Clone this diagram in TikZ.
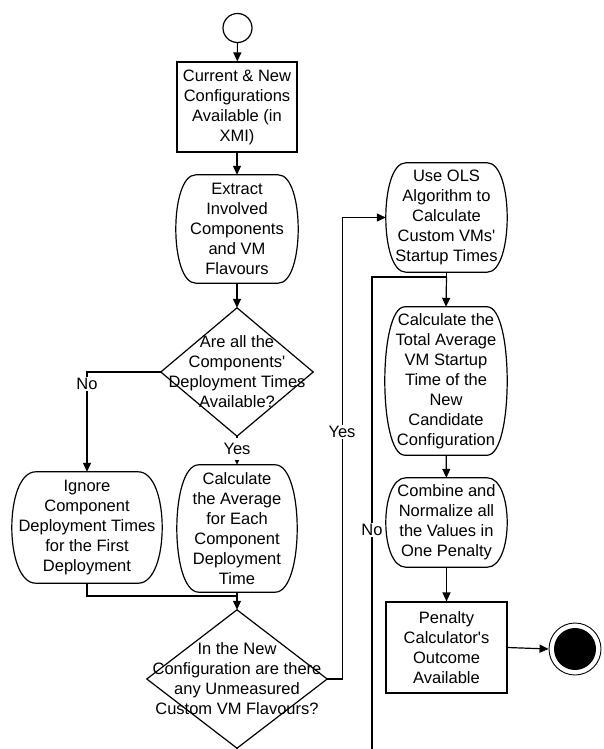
\documentclass[tikz,border=0pt]{standalone}
\usepackage{fontspec}
\setmainfont{Liberation Sans}[Ligatures=TeXOff]
\usetikzlibrary{arrows.meta,calc}

\tikzset{
  every node/.style={font=\fontsize{16.5}{20}\selectfont, align=center, inner sep=0pt},
  line/.style={line width=1.2pt, draw=black},
  flow/.style={line, -{Triangle[length=9pt,width=8pt]}},
  rectbox/.style={rectangle, draw=black, line width=1.2pt},
  lbl/.style={fill=white, inner sep=1.5pt},
}

% action box with bulging sides, drawn round an undrawn node
\newcommand\actionbox[2][20]{%
  \draw[line]
    ($(#2.north west)+(#1,0)$) -- ($(#2.north east)+(-#1,0)$)
    .. controls ($(#2.north east)+(#1/3,0)$) and ($(#2.south east)+(#1/3,0)$) .. ($(#2.south east)+(-#1,0)$)
    -- ($(#2.south west)+(#1,0)$)
    .. controls ($(#2.south west)+(-#1/3,0)$) and ($(#2.north west)+(-#1/3,0)$) .. cycle;}
% decision diamond round an undrawn node
\newcommand\decision[1]{%
  \draw[line] (#1.north) -- (#1.east) -- (#1.south) -- (#1.west) -- cycle;}

\begin{document}
\begin{tikzpicture}[x=1pt,y=-1pt]
\useasboundingbox (0,0) rectangle (603,749);

% start
\node (start) [circle, draw, line width=1.2pt, minimum size=29pt] at (237.5,28) {};

\node (cur) [rectbox, minimum width=120pt, minimum height=90pt] at (237,107)
  {Current \& New\\Configurations\\Available (in\\XMI)};

\node (ext) [minimum width=122pt, minimum height=108pt] at (237,229)
  {Extract\\Involved\\Components\\and VM\\Flavours};

\node (d1) [minimum width=152pt, minimum height=128pt] at (237,372)
  {Are all the\\Components'\\Deployment Times\\Available?};

\node (ign) [minimum width=150pt, minimum height=111pt] at (87,527.5)
  {Ignore\\Component\\Deployment Times\\for the First\\Deployment};

\node (avg) [minimum width=120pt, minimum height=127pt] at (237,528.5)
  {Calculate\\the Average\\for Each\\Component\\Deployment\\Time};

\node (d2) [minimum width=180pt, minimum height=138pt] at (237,679)
  {In the New\\Configuration are there\\any Unmeasured\\Custom VM Flavours?};

\node (ols) [minimum width=121pt, minimum height=109pt] at (446.5,217.5)
  {Use OLS\\Algorithm to\\Calculate\\Custom VMs'\\Startup Times};

\node (tot) [minimum width=122pt, minimum height=148pt] at (446,381)
  {Calculate the\\Total Average\\VM Startup\\Time of the\\New\\Candidate\\Configuration};

\node (comb) [minimum width=121pt, minimum height=89pt] at (446.5,522.5)
  {Combine and\\Normalize all\\the Values in\\One Penalty};

\node (pen) [rectbox, minimum width=121pt, minimum height=91pt] at (446.5,647.5)
  {Penalty\\Calculator's\\Outcome\\Available};

% final node
\node (end) [circle, draw, line width=0.9pt, minimum size=52pt] at (575,649) {};
\fill (end.center) circle (21pt);

% outlines of actions and decisions
\actionbox{ext}
\actionbox[24]{ign}
\actionbox[22]{avg}
\actionbox{ols}
\actionbox{tot}
\actionbox{comb}
\decision{d1}
\decision{d2}

% junction points
\coordinate (merge) at (237,596);
\coordinate (join) at (446.5,277);
\coordinate (nobend) at (372,277);

% connectors
\draw[flow] (start) -- (cur);
\draw[flow] (cur) -- (ext);
\draw[flow] (ext) -- (d1);
\draw[flow] (d1.west) -| (ign.north);
\draw[flow] (d1.south) -- (avg.north);
\draw[line] (ign.south) |- (merge);
\draw[line] (avg.south) -- (merge);
\draw[flow] (merge) -- (d2.north);
\draw[flow] (d2.east) -- ++(15,0) |- (ols.west);
\draw[line] (d2.south) -- ++(0,17) -| (nobend) -- (join);
\draw[line] (ols.south) -- (join);
\draw[flow] (join) -- (tot.north);
\draw[flow] (tot) -- (comb);
\draw[flow] (comb) -- (pen);
\draw[flow] (pen.east) -- (end.west);

% branch labels
\node (lno1) [lbl] at (87,384) {No};
\node (lyes1) [lbl, inner ysep=5pt] at (237,449) {Yes};
\node (lyes2) [lbl] at (342,432) {Yes};
\node (lno2) [lbl] at (372,530) {No};
\end{tikzpicture}
\end{document}
